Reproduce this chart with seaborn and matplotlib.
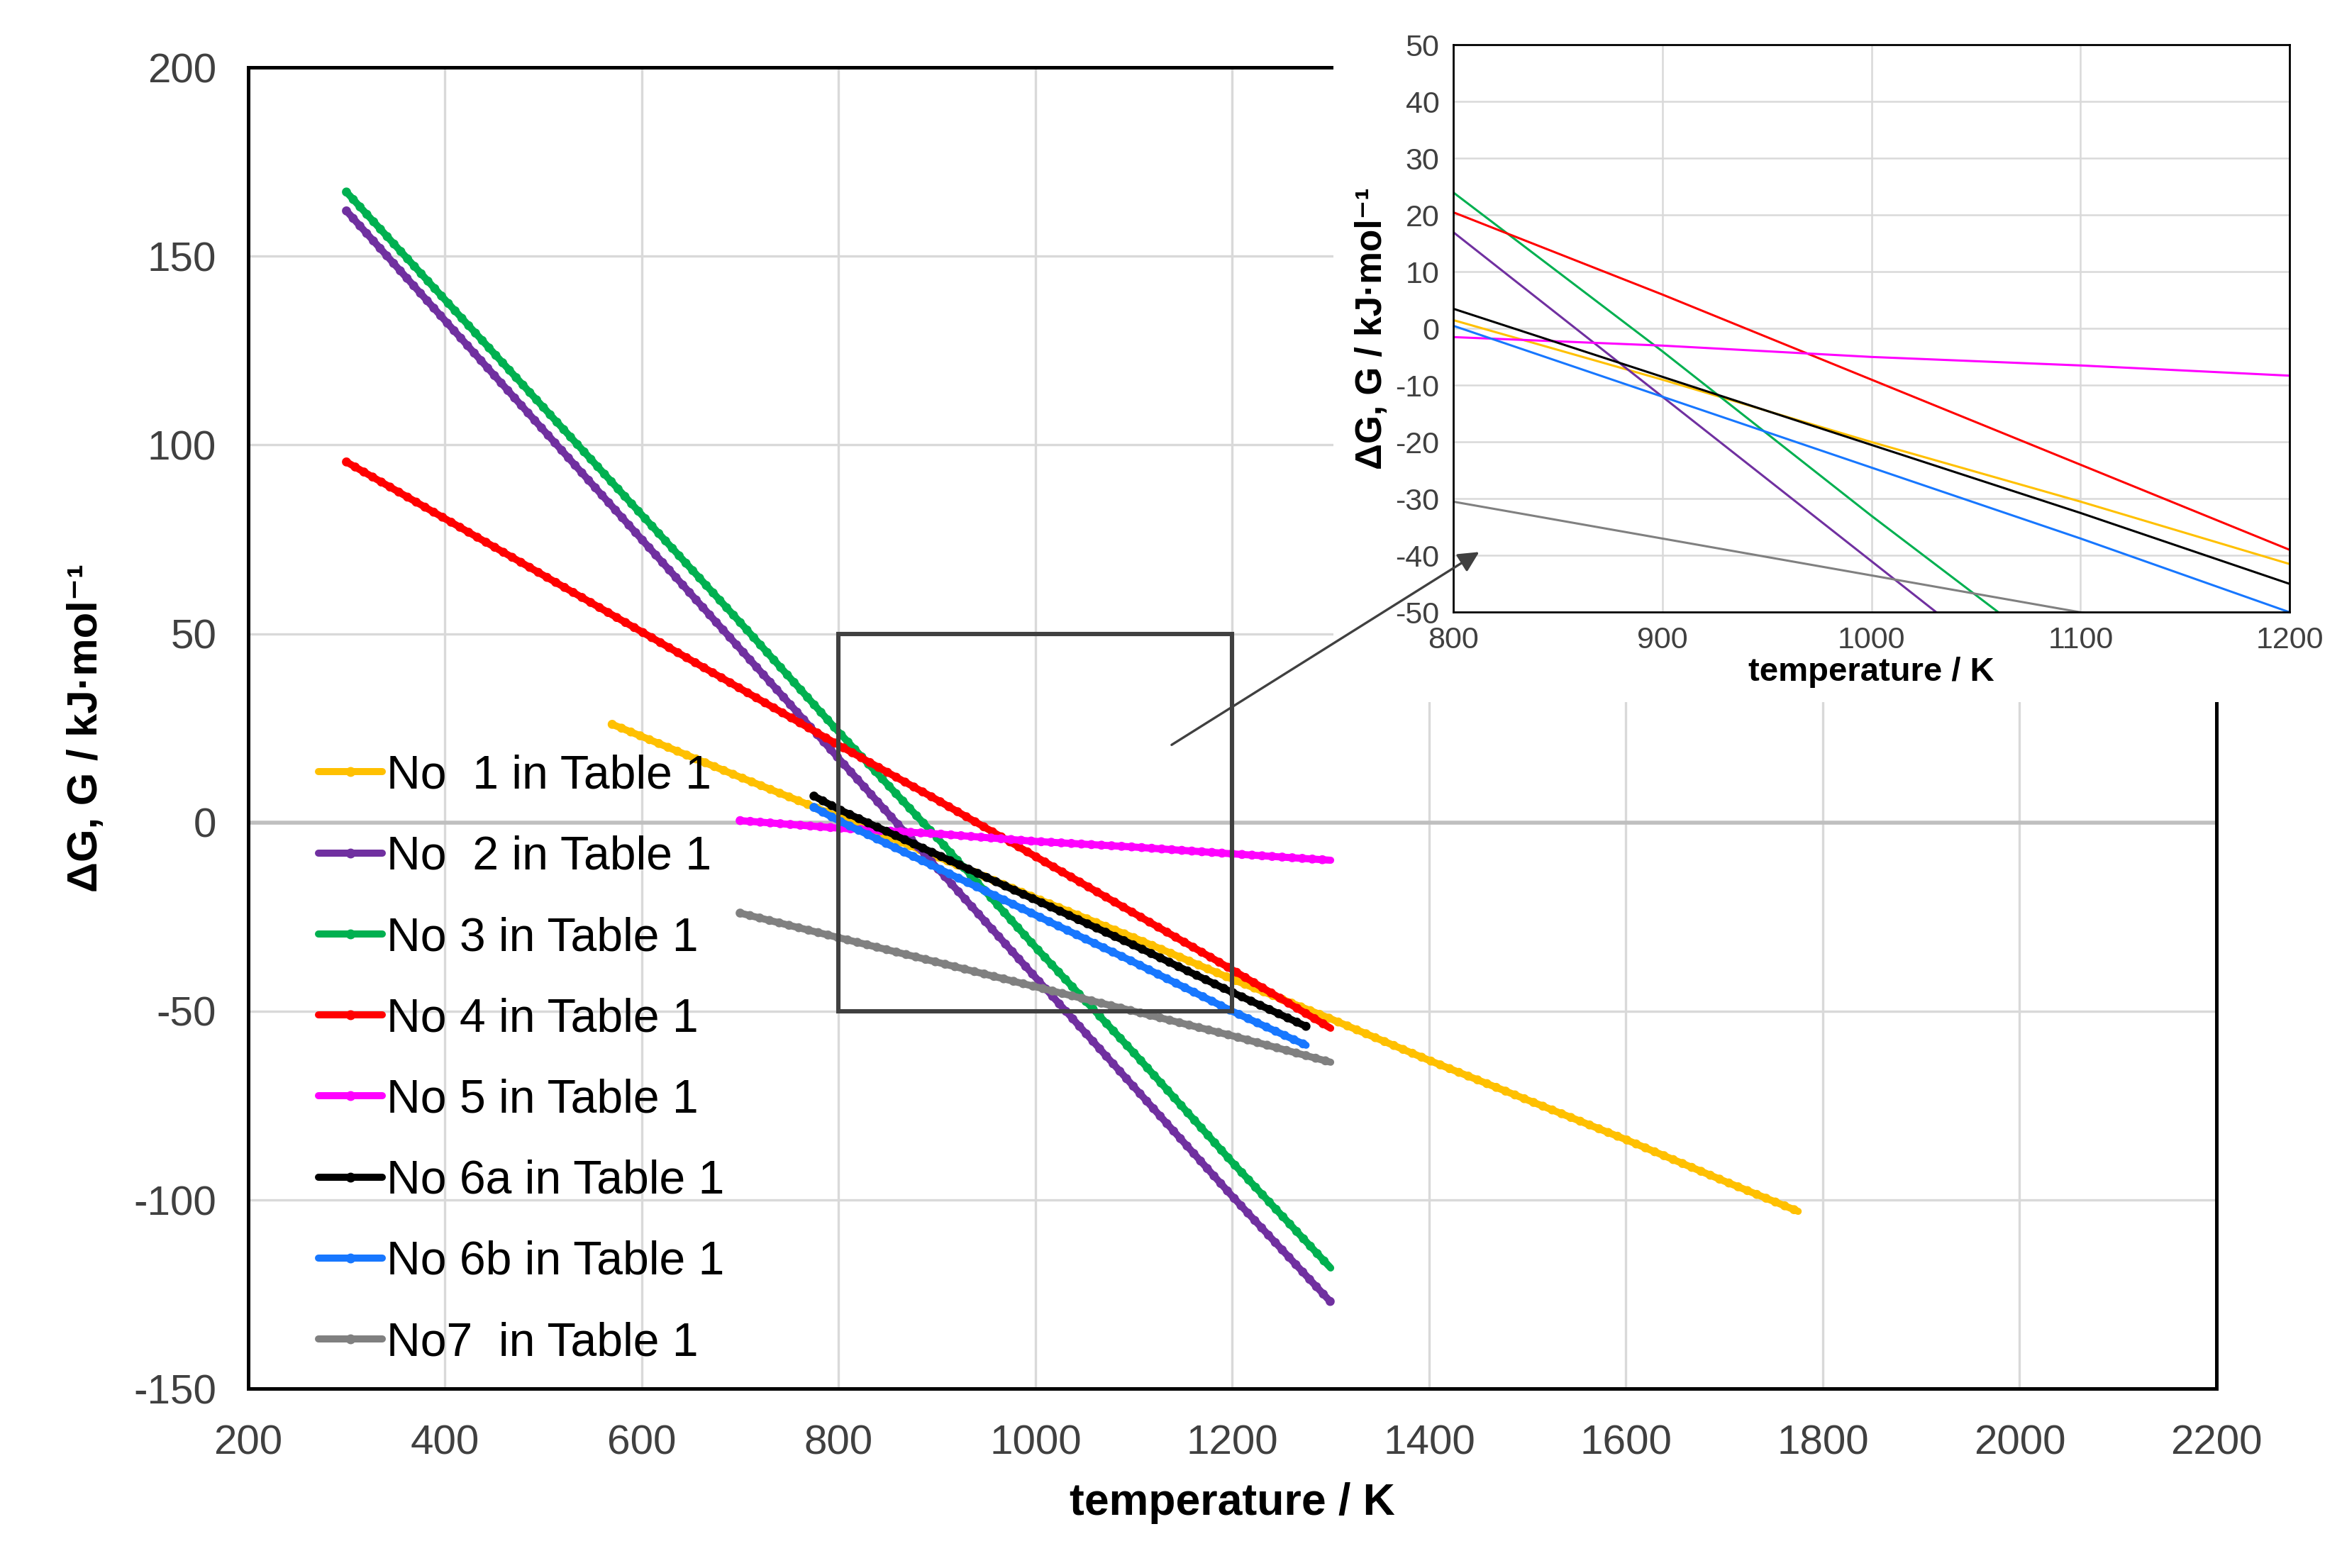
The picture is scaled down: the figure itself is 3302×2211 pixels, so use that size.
import matplotlib
matplotlib.use("Agg")
import matplotlib.pyplot as plt
from matplotlib.lines import Line2D
from matplotlib.patches import Rectangle
import seaborn as sns

sns.set_style("white")
plt.rcParams['font.family'] = ['Liberation Sans', 'DejaVu Sans']
plt.rcParams['axes.unicode_minus'] = False
plt.rcParams['text.color'] = 'black'
plt.rcParams['axes.labelcolor'] = 'black'

# temperature (K) and Gibbs energy (kJ/mol)
t1 = [570, 600, 700, 800, 900, 1000, 1100, 1200, 1300, 1400, 1500, 1600, 1700, 1775]
g1 = [26, 22.8, 12, 1.5, -9, -20, -30.5, -41.5, -52, -63, -73.5, -84, -95, -103]
t2 = [300, 400, 500, 600, 700, 800, 900, 1000, 1100, 1200, 1300]
g2 = [162, 133, 104, 75, 46, 17, -12, -41, -70, -99, -127]
t3 = [300, 400, 500, 600, 700, 800, 900, 1000, 1100, 1200, 1300]
g3 = [167, 138.5, 110, 81.5, 53, 24, -4, -33, -61, -90, -118]
t4 = [300, 400, 500, 600, 700, 800, 900, 1000, 1100, 1200, 1300]
g4 = [95.5, 80.5, 65.5, 50.5, 35.5, 20.5, 6, -9, -24, -39, -54.5]
t5 = [700, 800, 900, 1000, 1100, 1200, 1300]
g5 = [0.5, -1.5, -3, -5, -6.5, -8.3, -10]
t6a = [775, 800, 900, 1000, 1100, 1200, 1275]
g6a = [7, 3.5, -8.5, -20.5, -32.5, -45, -54]
t6b = [775, 800, 900, 1000, 1100, 1200, 1275]
g6b = [4, 0.5, -12, -24.5, -37, -50, -59]
t7 = [700, 800, 900, 1000, 1100, 1200, 1300]
g7 = [-24, -30.5, -37, -43.5, -50, -56.5, -63.5]

labels = ["No  1 in Table 1", "No  2 in Table 1", "No 3 in Table 1", "No 4 in Table 1",
          "No 5 in Table 1", "No 6a in Table 1", "No 6b in Table 1", "No7  in Table 1"]
colors = ["#FFC000", "#7030A0", "#00B050", "#FF0000", "#FF00FF", "#000000", "#1777FF", "#808080"]
series = [(t1, g1), (t2, g2), (t3, g3), (t4, g4), (t5, g5), (t6a, g6a), (t6b, g6b), (t7, g7)]

fig = plt.figure(figsize=(16.51, 11.055), dpi=200)
ax = fig.add_axes([0.1059, 0.1143, 0.8405, 0.8427])
ax.set_zorder(0)

tick_col = "#404040"
ylab = "ΔG, G / kJ·mol⁻¹"

# main plot
for (t, g), c in zip(series, colors):
    sns.lineplot(x=t, y=g, color=c, lw=3.6, ax=ax, zorder=3)
    # beaded look of the dense markers
    sns.lineplot(x=t, y=g, color=c, lw=4.6, ax=ax, zorder=3,
                 linestyle=(0, (0.01, 1.1)), dash_capstyle='round')

ax.set_xlim(200, 2200)
ax.set_ylim(-150, 200)
ax.set_xticks(range(200, 2201, 200))
ax.set_yticks(range(-150, 201, 50))
ax.grid(True, color="#D9D9D9", lw=1.2)
ax.axhline(0, color="#BFBFBF", lw=2.0, zorder=1)
ax.tick_params(length=0, labelsize=21, labelcolor=tick_col)
ax.tick_params(axis='y', pad=16)
ax.tick_params(axis='x', pad=18)
for s in ax.spines.values():
    s.set_visible(True)
    s.set_color("black")
    s.set_linewidth(1.8)
ax.set_xlabel("temperature / K", fontsize=22.5, fontweight='bold', labelpad=10)
ax.set_ylabel(ylab, fontsize=21.5, fontweight='bold', labelpad=14)

ax.add_patch(Rectangle((800, -50), 400, 100, fill=False, edgecolor="#404040", lw=2.2, zorder=4))

handles = [Line2D([0], [0], color=c, lw=3.6, marker='o', markersize=4) for c in colors]
ax.legend(handles, labels, loc='lower left', bbox_to_anchor=(0.024, 0.0), frameon=False,
          fontsize=23.8, labelspacing=0.79, handlelength=1.35, handletextpad=0.1, borderpad=0,
          labelcolor='black')

# white cover behind the inset
fig.add_artist(Rectangle((0.5695, 0.5524), 0.4305, 0.4476, transform=fig.transFigure,
                         facecolor="white", edgecolor="none", zorder=1))

# inset
axin = fig.add_axes([0.6205, 0.6095, 0.3572, 0.3619])
axin.set_zorder(2)
for (t, g), c in zip(series, colors):
    sns.lineplot(x=t, y=g, color=c, lw=1.1, ax=axin)
axin.set_xlim(800, 1200)
axin.set_ylim(-50, 50)
axin.set_xticks(range(800, 1201, 100))
axin.set_yticks(range(-50, 51, 10))
axin.grid(True, color="#D9D9D9", lw=0.9)
axin.tick_params(length=0, labelsize=15.5, labelcolor=tick_col, pad=7)
for s in axin.spines.values():
    s.set_visible(True)
    s.set_color("black")
    s.set_linewidth(1.0)
axin.set_xlabel("temperature / K", fontsize=17, fontweight='bold', labelpad=1)
axin.set_ylabel(ylab, fontsize=18.5, fontweight='bold', labelpad=3)

axin.annotate("", xy=(814, -39), xycoords='data', xytext=(1135, 20), textcoords=ax.transData,
              arrowprops=dict(arrowstyle='-|>', color="#404040", lw=1.2, mutation_scale=22),
              annotation_clip=False)

fig.savefig("out.png", dpi=200)
